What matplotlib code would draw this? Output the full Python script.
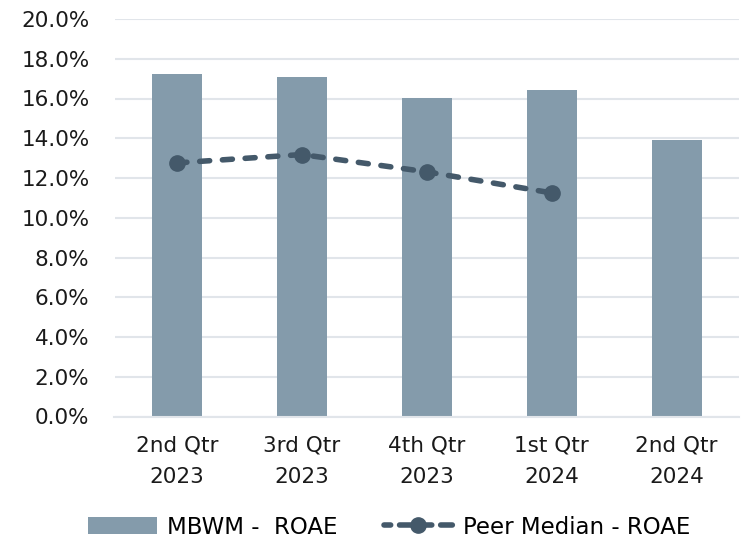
import matplotlib
matplotlib.use("Agg")
import matplotlib.pyplot as plt
from matplotlib.lines import Line2D
from matplotlib.ticker import FuncFormatter, MultipleLocator
import numpy as np

plt.rcParams['font.family'] = ['DejaVu Sans']

categories = ["2nd Qtr\n2023", "3rd Qtr\n2023", "4th Qtr\n2023", "1st Qtr\n2024", "2nd Qtr\n2024"]
mbwm_roae = [17.25, 17.08, 16.05, 16.42, 13.92]
peer_median_roae = [12.76, 13.18, 12.31, 11.25]

bar_color = "#849bab"
line_color = "#44596a"
grid_color = "#e1e5ea"

fig = plt.figure(figsize=(7.43, 5.40), dpi=100)
ax = fig.add_axes([114.5 / 743, 1 - 416.5 / 540, (739 - 114.5) / 743, (416.5 - 19) / 540])

x = np.arange(len(categories))
bars = ax.bar(x, mbwm_roae, width=0.4, color=bar_color, label="MBWM -  ROAE", zorder=2)
ax.plot(x[:len(peer_median_roae)], peer_median_roae, color=line_color,
        linestyle=(0, (1.8, 2.3)), linewidth=4, marker="o", markersize=11,
        dash_capstyle="round", zorder=3)

ax.set_xlim(-0.5, len(categories) - 0.5)
ax.set_ylim(0, 20)
ax.yaxis.set_major_locator(MultipleLocator(2))
ax.yaxis.set_major_formatter(FuncFormatter(lambda v, p: f"{v:.1f}%"))
ax.set_xticks(x)
ax.set_xticklabels(categories, linespacing=1.7)
ax.grid(axis="y", color=grid_color, linewidth=1.5, zorder=0)
for s in ["top", "right", "left"]:
    ax.spines[s].set_visible(False)
ax.spines["bottom"].set_color(grid_color)
ax.spines["bottom"].set_linewidth(1.5)
ax.tick_params(axis="both", length=0, labelsize=15.5, colors="#1a1a1a")
ax.tick_params(axis="y", pad=18)
ax.tick_params(axis="x", pad=14)

# legend key for the peer line: short dash, dot, short dash
peer_key = Line2D([], [], color=line_color, linestyle=(0.9, (2.1, 1.6)), linewidth=4,
                  marker="o", markersize=11, dash_capstyle="round",
                  label="Peer Median - ROAE")

ax.legend(handles=[bars, peer_key], loc="center", bbox_to_anchor=(0.44, -0.278), ncol=2,
          frameon=False, fontsize=16.5, handlelength=3.0, columnspacing=2.0,
          handletextpad=0.45, borderpad=0)

fig.savefig("out.png", dpi=100)
